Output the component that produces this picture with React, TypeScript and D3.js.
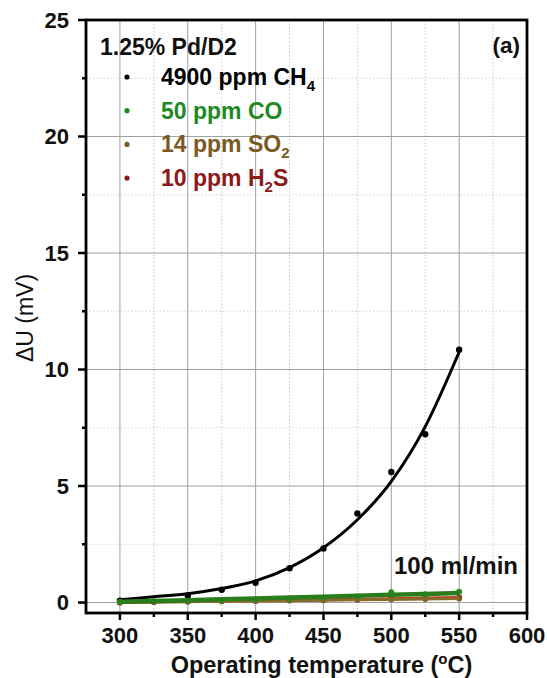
import React from "react";
import * as d3 from "d3";

const temps = [300, 325, 350, 375, 400, 425, 450, 475, 500, 525, 550];
const ch4Temps = [300, 350, 375, 400, 425, 450, 475, 500, 525, 550];
const ch4Values = [0.08, 0.3, 0.55, 0.85, 1.47, 2.32, 3.82, 5.6, 7.22, 10.85];
const ch4Fit = [0.12, 0.25, 0.38, 0.6, 0.93, 1.5, 2.35, 3.55, 5.2, 7.55, 10.75];
const coValues = [0.02, 0.05, 0.08, 0.1, 0.13, 0.16, 0.2, 0.26, 0.44, 0.36, 0.46];
const coFit = [0.03, 0.07, 0.1, 0.14, 0.17, 0.21, 0.25, 0.29, 0.33, 0.37, 0.41];
const so2Values = [0.0, 0.02, 0.04, 0.05, 0.07, 0.09, 0.1, 0.12, 0.14, 0.15, 0.17];
const so2Fit = [0.0, 0.02, 0.03, 0.05, 0.07, 0.08, 0.1, 0.12, 0.13, 0.15, 0.17];
const h2sValues = [0.0, 0.02, 0.04, 0.06, 0.08, 0.1, 0.12, 0.14, 0.16, 0.19, 0.22];
const h2sFit = [0.0, 0.02, 0.04, 0.06, 0.08, 0.1, 0.12, 0.14, 0.16, 0.19, 0.21];

const xTicks = [300, 350, 400, 450, 500, 550, 600];
const xMinor = [325, 375, 425, 475, 525, 575];
const yTicks = [0, 5, 10, 15, 20, 25];
const yMinor = [2.5, 7.5, 12.5, 17.5, 22.5];

const legendTitle = "1.25% Pd/D2";
const legendItems = [
  { main: "4900 ppm CH", sub: "4", tail: "", color: "#000000" },
  { main: "50 ppm CO", sub: "", tail: "", color: "#1f8a1f" },
  { main: "14 ppm SO", sub: "2", tail: "", color: "#7a5a22" },
  { main: "10 ppm H", sub: "2", tail: "S", color: "#8b1a1a" },
];

const W = 547;
const H = 678;
const FONT = "Liberation Sans, Arial, Helvetica, sans-serif";

export default function App() {
  const x = d3.scaleLinear().domain([275, 600]).range([86, 527]);
  const y = d3.scaleLinear().domain([-0.45, 25]).range([613, 20]);
  const smooth = d3
    .line<[number, number]>()
    .x((d) => x(d[0]))
    .y((d) => y(d[1]))
    .curve(d3.curveMonotoneX);
  const straight = d3
    .line<[number, number]>()
    .x((d) => x(d[0]))
    .y((d) => y(d[1]));

  const pair = (vals: number[], ts: number[]) =>
    ts.map((t, i) => [t, vals[i]] as [number, number]);

  const series = [
    { fit: h2sFit, vals: h2sValues, color: "#c0381c", dot: "#8b1a1a", w: 3 },
    { fit: so2Fit, vals: so2Values, color: "#8a6a2a", dot: "#7a5a22", w: 3 },
    { fit: coFit, vals: coValues, color: "#2a7d1c", dot: "#2a8a1c", w: 4.5 },
  ];

  const [x0, x1] = x.range();
  const [yb, yt] = y.range();

  return (
    <svg width={W} height={H} style={{ position: "absolute", left: 0, top: 0, background: "#fff" }}>
      <rect x={0} y={0} width={W} height={H} fill="#fff" />
      {xMinor.map((t) => (
        <line key={"xm" + t} x1={x(t)} x2={x(t)} y1={yb} y2={yt} stroke="#c8c8c8" strokeWidth={1} strokeDasharray="1.5,2" />
      ))}
      {yMinor.map((t) => (
        <line key={"ym" + t} x1={x0} x2={x1} y1={y(t)} y2={y(t)} stroke="#d6d6d6" strokeWidth={1} strokeDasharray="1.5,2" />
      ))}
      {xTicks.map((t) => (
        <line key={"xg" + t} x1={x(t)} x2={x(t)} y1={yb} y2={yt} stroke="#a0a0a0" strokeWidth={1} />
      ))}
      {yTicks.map((t) => (
        <line key={"yg" + t} x1={x0} x2={x1} y1={y(t)} y2={y(t)} stroke="#a0a0a0" strokeWidth={1} />
      ))}

      <path d={smooth(pair(ch4Fit, temps)) || ""} fill="none" stroke="#000" strokeWidth={3} />
      {ch4Temps.map((t, i) => (
        <circle key={"c" + t} cx={x(t)} cy={y(ch4Values[i])} r={3.2} fill="#000" />
      ))}

      {series.map((s, si) => (
        <g key={"s" + si}>
          {temps.map((t, i) => (
            <circle key={t} cx={x(t)} cy={y(s.vals[i])} r={3} fill={s.dot} />
          ))}
          <path d={straight(pair(s.fit, temps)) || ""} fill="none" stroke={s.color} strokeWidth={s.w} />
        </g>
      ))}

      <rect x={x0} y={yt} width={x1 - x0} height={yb - yt} fill="none" stroke="#000" strokeWidth={2.8} />

      {xTicks.map((t) => (
        <g key={"xt" + t}>
          <line x1={x(t)} x2={x(t)} y1={yb} y2={yb + 7} stroke="#000" strokeWidth={2.5} />
          <text x={x(t)} y={643} textAnchor="middle" fontFamily={FONT} fontWeight="bold" fontSize={22} fill="#111">
            {t}
          </text>
        </g>
      ))}
      {xMinor.map((t) => (
        <line key={"xmt" + t} x1={x(t)} x2={x(t)} y1={yb} y2={yb + 4} stroke="#000" strokeWidth={2.5} />
      ))}
      {yTicks.map((t) => (
        <g key={"yt" + t}>
          <line x1={x0} x2={x0 - 8} y1={y(t)} y2={y(t)} stroke="#000" strokeWidth={2.5} />
          <text x={69} y={y(t)} dy="0.36em" textAnchor="end" fontFamily={FONT} fontWeight="bold" fontSize={22} fill="#111">
            {t}
          </text>
        </g>
      ))}
      {yMinor.map((t) => (
        <line key={"ymt" + t} x1={x0} x2={x0 - 4} y1={y(t)} y2={y(t)} stroke="#000" strokeWidth={2.5} />
      ))}

      <text x={(x0 + x1) / 2 + 15} y={673} textAnchor="middle" fontFamily={FONT} fontWeight="bold" fontSize={23.5} fill="#111">
        Operating temperature (
        <tspan fontSize={15} dy={-9}>o</tspan>
        <tspan dy={9}>C)</tspan>
      </text>
      <text
        transform={`translate(33, ${318}) rotate(-90)`}
        textAnchor="middle"
        fontFamily={FONT}
        fontSize={23}
        fill="#111"
      >
        ΔU (mV)
      </text>

      <text x={100} y={55} fontFamily={FONT} fontWeight="bold" fontSize={23} fill="#111">
        {legendTitle}
      </text>
      {legendItems.map((it, i) => {
        const by = 85 + i * 33.7;
        return (
          <g key={"l" + i}>
            <circle cx={127} cy={by - 8} r={2.6} fill={it.color} />
            <text x={161} y={by} fontFamily={FONT} fontWeight="bold" fontSize={23} fill={it.color}>
              {it.main}
              {it.sub && (
                <tspan fontSize={15} dy={6}>
                  {it.sub}
                </tspan>
              )}
              {it.tail && <tspan dy={-6}>{it.tail}</tspan>}
            </text>
          </g>
        );
      })}

      <text x={520} y={53} textAnchor="end" fontFamily={FONT} fontWeight="bold" fontSize={22.5} fill="#111">
        (a)
      </text>
      <text x={518} y={574} textAnchor="end" fontFamily={FONT} fontWeight="bold" fontSize={24} fill="#111">
        100 ml/min
      </text>
    </svg>
  );
}
